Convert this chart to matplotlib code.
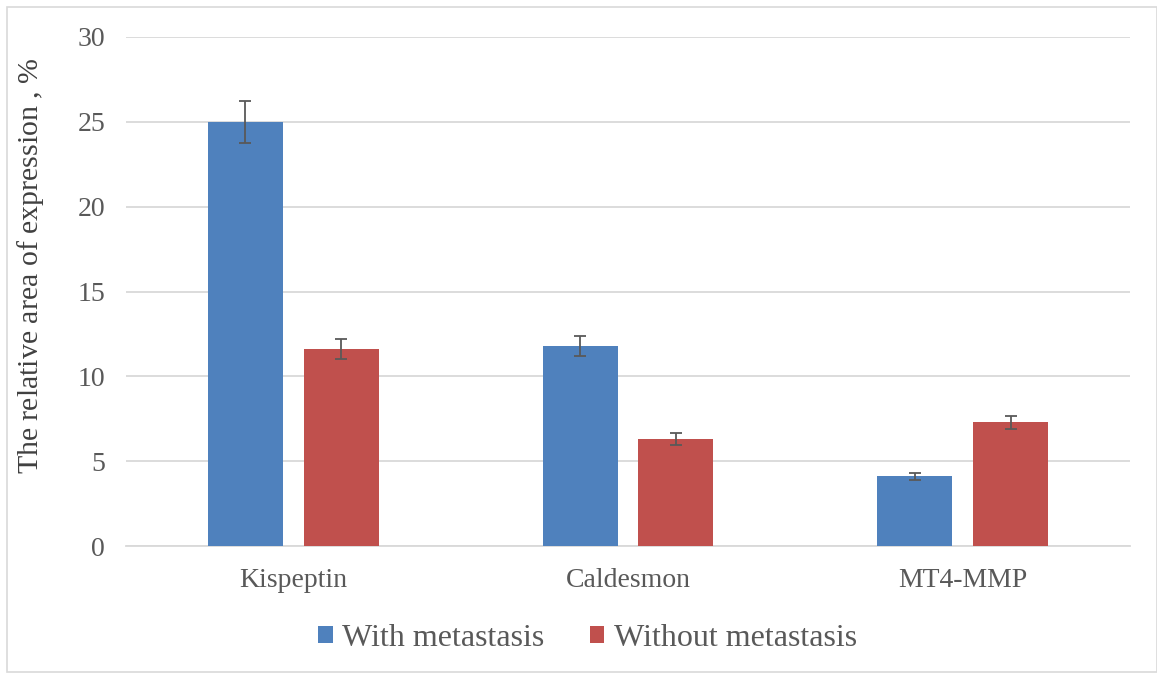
import matplotlib
matplotlib.use("Agg")
import matplotlib.pyplot as plt
import numpy as np
from matplotlib.patches import Rectangle

categories = ["Kispeptin", "Caldesmon", "MT4-MMP"]
series_names = ["With metastasis", "Without metastasis"]
with_met = [25.0, 11.8, 4.1]
with_met_err = [1.25, 0.6, 0.22]
without_met = [11.6, 6.3, 7.3]
without_met_err = [0.6, 0.35, 0.38]
yticks = [0, 5, 10, 15, 20, 25, 30]

plt.rcParams['font.family'] = ['Liberation Serif', 'DejaVu Serif']
plt.rcParams['mathtext.fontset'] = 'custom'
plt.rcParams['mathtext.rm'] = 'Liberation Serif'
plt.rcParams['mathtext.it'] = 'Liberation Serif:italic'

txt = '#595959'
fig = plt.figure(figsize=(11.57, 6.77), dpi=100)
ax = fig.add_axes([126/1157, 131/677, (1130-126)/1157, (546-37)/677])

x = np.arange(len(categories))
w = 0.224
off = 0.143
ekw = dict(ecolor='#595959', elinewidth=1.3, capsize=4.5, capthick=1.3)
ax.bar(x - off, with_met, w, color='#4F81BD', yerr=with_met_err, error_kw=ekw,
       label=series_names[0], zorder=3)
ax.bar(x + off, without_met, w, color='#C0504D', yerr=without_met_err, error_kw=ekw,
       label=series_names[1], zorder=3)

ax.set_xlim(-0.5, 2.5)
ax.set_ylim(0, 30)
ax.set_yticks(yticks)
ax.set_xticks(x)
ax.set_xticklabels(categories)
ax.yaxis.grid(True, color='#d9d9d9', linewidth=1.3, zorder=0)
ax.set_axisbelow(True)
for s in ['top', 'right', 'left']:
    ax.spines[s].set_visible(False)
ax.spines['bottom'].set_color('#d9d9d9')
ax.spines['bottom'].set_linewidth(1.3)
ax.tick_params(axis='both', length=0, labelsize=20, colors=txt)
ax.tick_params(axis='x', pad=16)
ax.tick_params(axis='y', pad=15)
ax.set_ylabel('The relative area of expression , $\\mathit{\\%}$', fontsize=21.5, color='#404040')
ax.yaxis.set_label_coords(-0.080, 0.55)

fig.legend(loc='center', bbox_to_anchor=(0.508, 0.057), ncol=2, frameon=False,
           fontsize=23, labelcolor=txt, handlelength=0.45, handleheight=0.45,
           handletextpad=0.3, columnspacing=1.42)

fig.patches.append(Rectangle((7/1157, 5/677), 1150/1157, 665/677, transform=fig.transFigure,
                             fill=False, edgecolor='#d9d9d9', linewidth=1.2))

fig.savefig('out.png', dpi=100)
